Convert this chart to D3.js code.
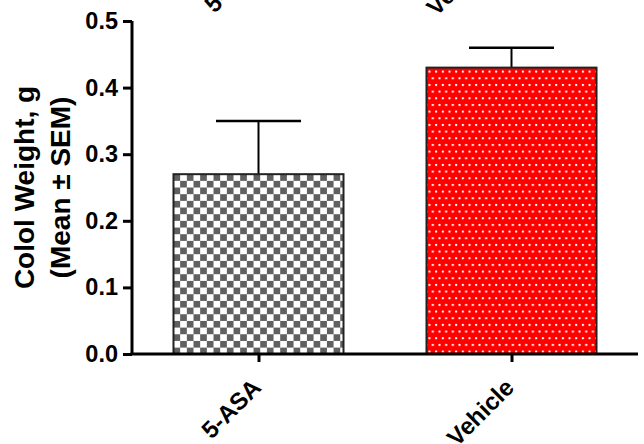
<!DOCTYPE html>
<html>
<head>
<meta charset="utf-8">
<script src="https://cdn.jsdelivr.net/npm/d3@7"></script>
<style>
  html, body { margin: 0; padding: 0; background: #fff; }
  svg { display: block; }
  text { font-family: "Liberation Sans", Arial, sans-serif; font-weight: bold; fill: #000; }
</style>
</head>
<body>
<svg id="chart" width="644" height="444"></svg>
<script>
// ---- data ----
const categories = ["5-ASA", "Vehicle"];
const means = [0.27, 0.43];
const sems = [0.08, 0.03];
const yTicks = [0.0, 0.1, 0.2, 0.3, 0.4, 0.5];
const yTitleLines = ["Colol Weight, g", "(Mean \u00B1 SEM)"];

(function () {
// ---- layout ----
const mLeft = 132, mRight = 638, mTop = 21, mBottom = 354;
const svg = d3.select("#chart");

const x = d3.scalePoint().domain(categories).range([mLeft, mRight]).padding(0.5);
const y = d3.scaleLinear().domain([0, 0.5]).range([mBottom, mTop]);
const barW = x.step() * 0.672;
const capW = barW * 0.5;

// ---- patterns ----
const defs = svg.append("defs");
const cell = 6.67;
categories.forEach((c, i) => {
  const bx = x(c) - barW / 2, by = y(means[i]);
  if (i === 0) {
    const p = defs.append("pattern").attr("id", "pat0")
      .attr("patternUnits", "userSpaceOnUse")
      .attr("x", bx).attr("y", by).attr("width", cell * 2).attr("height", cell * 2);
    p.append("rect").attr("width", cell * 2).attr("height", cell * 2).attr("fill", "#fff");
    p.append("rect").attr("x", 0).attr("y", 0).attr("width", cell).attr("height", cell).attr("fill", "#606060");
    p.append("rect").attr("x", cell).attr("y", cell).attr("width", cell).attr("height", cell).attr("fill", "#606060");
  } else {
    const dx = 6.67, dy = 13.33;
    const p = defs.append("pattern").attr("id", "pat1")
      .attr("patternUnits", "userSpaceOnUse")
      .attr("x", bx + 2).attr("y", by + 3).attr("width", dx).attr("height", dy);
    p.append("rect").attr("width", dx).attr("height", dy).attr("fill", "#ff0000");
    p.append("rect").attr("x", 0).attr("y", 0).attr("width", 2).attr("height", 2).attr("fill", "#fff");
    p.append("rect").attr("x", dx / 2).attr("y", dy / 2).attr("width", 2).attr("height", 2).attr("fill", "#fff");
  }
});

// ---- error bars ----
const eg = svg.append("g");
categories.forEach((c, i) => {
  eg.append("line").attr("x1", x(c)).attr("x2", x(c))
    .attr("y1", y(means[i])).attr("y2", y(means[i] + sems[i]))
    .attr("stroke", "#000").attr("stroke-width", 2);
  eg.append("line").attr("x1", x(c) - capW / 2).attr("x2", x(c) + capW / 2)
    .attr("y1", y(means[i] + sems[i])).attr("y2", y(means[i] + sems[i]))
    .attr("stroke", "#000").attr("stroke-width", 2.5);
});

// ---- bars ----
svg.append("g").selectAll("rect").data(categories).join("rect")
  .attr("x", c => x(c) - barW / 2)
  .attr("y", (c, i) => y(means[i]))
  .attr("width", barW)
  .attr("height", (c, i) => y(0) - y(means[i]))
  .attr("fill", (c, i) => `url(#pat${i})`)
  .attr("stroke", "#222")
  .attr("stroke-width", 2);

// ---- y axis ----
const ya = svg.append("g").attr("transform", `translate(${mLeft},0)`)
  .call(d3.axisLeft(y).tickValues(yTicks).tickFormat(d3.format(".1f")).tickSize(9).tickPadding(5));
ya.select(".domain").attr("stroke", "#000").attr("stroke-width", 3)
  .attr("d", `M0,${mTop}V${mBottom}`);
ya.selectAll(".tick line").attr("stroke", "#000").attr("stroke-width", 3);
ya.selectAll(".tick text").attr("font-size", 23.5).attr("font-family", "Liberation Sans, Arial, sans-serif")
  .attr("font-weight", "bold").attr("fill", "#000");

// ---- x axis ----
const xa = svg.append("g").attr("transform", `translate(0,${mBottom})`)
  .call(d3.axisBottom(x).tickSize(8).tickFormat(""));
xa.select(".domain").attr("stroke", "#000").attr("stroke-width", 3)
  .attr("d", `M${mLeft - 1.5},0H${mRight}`);
xa.selectAll(".tick line").attr("stroke", "#000").attr("stroke-width", 3);

// category labels (rotated)
svg.append("g").selectAll("text").data(categories).join("text")
  .attr("transform", c => `translate(${x(c) + 4},${mBottom + 35}) rotate(-45)`)
  .attr("text-anchor", "end")
  .attr("font-size", 24)
  .text(c => c);

// duplicated labels clipped at top
const topOffsets = [-44, -75];
svg.append("g").selectAll("text").data(categories).join("text")
  .attr("transform", (c, i) => `translate(${x(c) + topOffsets[i]},${14 + 3 * i}) rotate(-45)`)
  .attr("text-anchor", "start")
  .attr("font-size", 24)
  .text(c => c);

// ---- y title ----
const cy = (mTop + mBottom) / 2;
yTitleLines.forEach((t, i) => {
  svg.append("text")
    .attr("transform", `translate(${34 + i * 36},${cy}) rotate(-90)`)
    .attr("text-anchor", "middle")
    .attr("font-size", 28)
    .text(t);
});
})();
</script>
</body>
</html>
